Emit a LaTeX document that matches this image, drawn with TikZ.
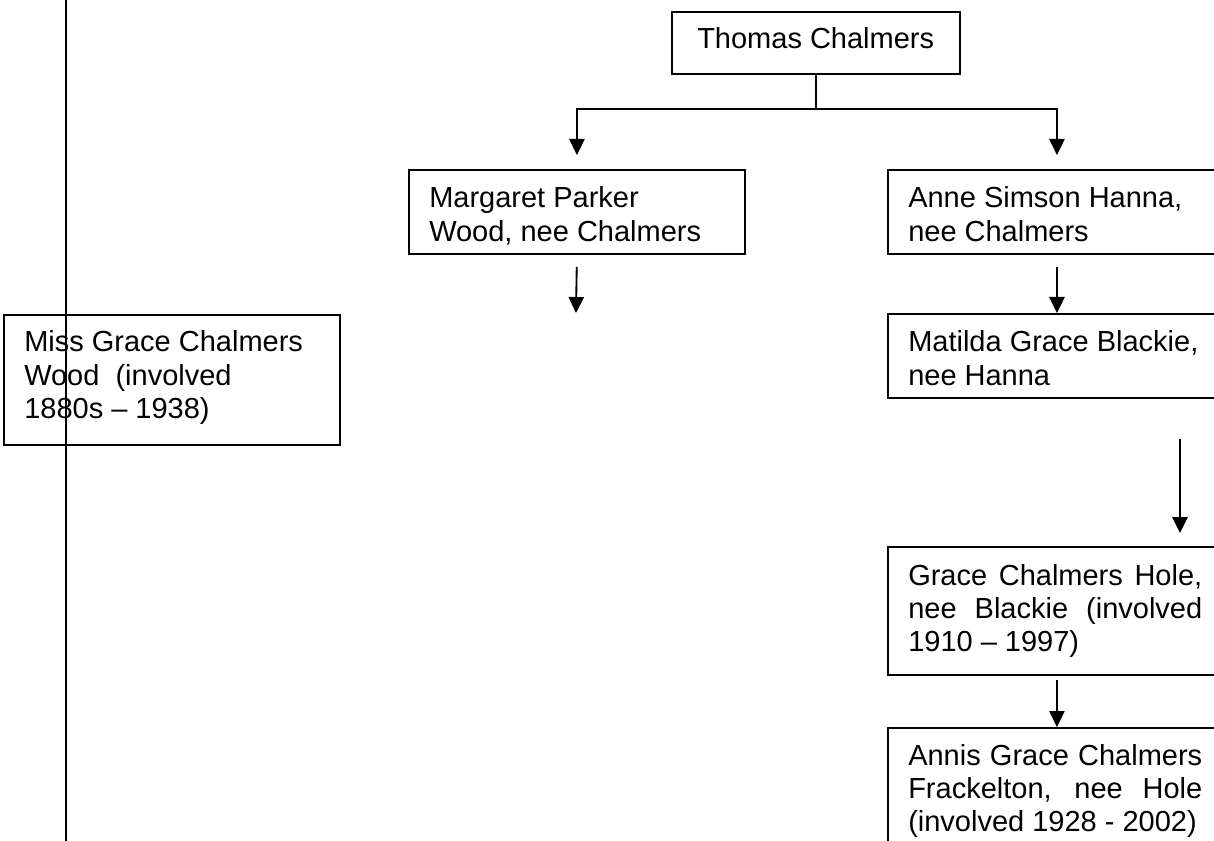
\documentclass[tikz,border=0pt]{standalone}
\usepackage{fontspec}
\setmainfont{Liberation Sans}
\usetikzlibrary{arrows.meta}
\tikzset{
  box/.style={draw=black, line width=1.4pt, fill=none, inner sep=0pt, anchor=north west},
  txt/.style={inner sep=0pt, anchor=base west, font=\fontsize{21.75pt}{25pt}\selectfont},
  arr/.style={draw=black, line width=1.4pt, -{Triangle[length=12pt,width=11.5pt]}},
  vline/.style={draw=black, line width=1.6pt}
}
\newcommand{\rag}[2]{\parbox[t]{#1}{\raggedright\hyphenpenalty=10000 #2}}
\newcommand{\jus}[2]{\parbox[t]{#1}{\tolerance=10000\hyphenpenalty=10000\exhyphenpenalty=10000 #2}}
\begin{document}
\begin{tikzpicture}[x=0.75pt,y=-0.75pt]
\clip (0,0) rectangle (1214,841);
\fill[white] (0,0) rectangle (1214,841);
% boxes
\node[box, minimum width=216pt, minimum height=46.5pt] (tc) at (671,11) {};
\node[box, minimum width=252pt, minimum height=63pt] (mw) at (408,169) {};
\node[box, minimum width=253.5pt, minimum height=63pt] (as) at (887,169) {};
\node[box, minimum width=252pt, minimum height=97.5pt] (gw) at (3,314) {};
\node[box, minimum width=253.5pt, minimum height=63pt] (mb) at (887,313) {};
\node[box, minimum width=253.5pt, minimum height=96pt] (gh) at (887,546) {};
\node[box, minimum width=253.5pt, minimum height=97.5pt] (ag) at (887,727) {};
% texts
\node[txt] (tct) at (697,49) {Thomas Chalmers};
\node[txt] (mwt) at (429,208) {\rag{220.5pt}{Margaret Parker\\Wood, nee Chalmers}};
\node[txt] (ast) at (908,208) {\rag{220.5pt}{Anne Simson Hanna,\\nee Chalmers}};
\node[txt] (gwt) at (24,352) {\rag{220.5pt}{Miss Grace Chalmers\\Wood\ \ (involved\\1880s – 1938)}};
\node[txt] (mbt) at (908,352) {\rag{220.5pt}{Matilda Grace Blackie,\\nee Hanna}};
\node[txt] (ght) at (908,585) {\jus{220.5pt}{Grace Chalmers Hole,\linebreak nee Blackie (involved\linebreak 1910 – 1997)}};
\node[txt] (agt) at (908,765) {\jus{220.5pt}{Annis Grace Chalmers\linebreak Frackelton, nee Hole\linebreak (involved 1928 - 2002)}};
% connectors
\draw[arr, shorten >=10.5pt] (tc.south) -- ++(0,34) -| (mw.north);
\draw[arr, shorten >=10.5pt] (tc.south) -- ++(0,34) -| (as.north);
\coordinate (mwend) at (576,313);
\draw[arr, shorten <=9pt] (mw.south) -- (mwend);
\draw[arr, shorten <=9pt] (as.south) -- (mb.north);
\draw[arr] ([xshift=219.75pt, yshift=-30pt]mb.south west) -- ([xshift=219.75pt, yshift=9.75pt]gh.north west);
\draw[arr, shorten <=3pt] (gh.south) -- (ag.north);
% vertical line
\coordinate (vt) at (66,0);
\coordinate (vb) at (66,841);
\draw[vline] (vt) -- (vb);
\end{tikzpicture}
\end{document}
